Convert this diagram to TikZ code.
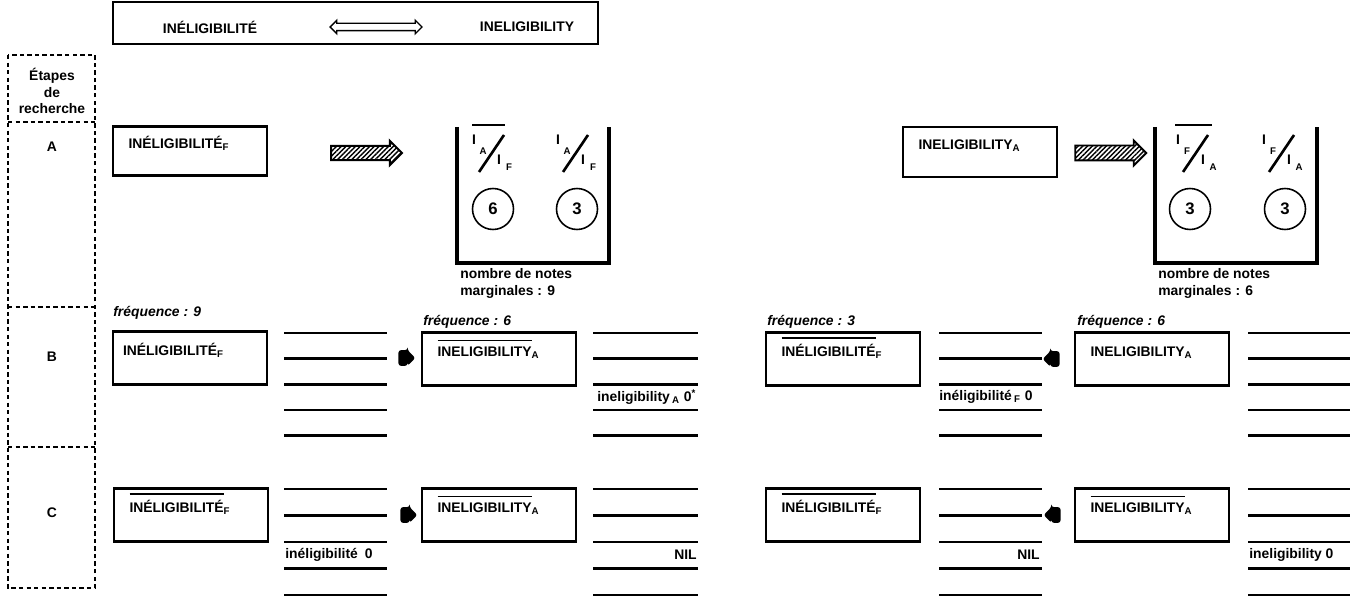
\documentclass[tikz,border=0pt]{standalone}
\usepackage{fontspec}
\setmainfont{Liberation Sans}
\usetikzlibrary{shapes.arrows,patterns.meta,positioning}

% word with a bar over it
\newcommand{\ovl}[1]{\leavevmode\vbox{\hrule height .9pt\kern 3.2pt\hbox{#1}}}
% slanted ratio I_x / I_y : name, position, upper index, lower index
\newcommand{\ratio}[4]{%
  \begin{scope}[shift={#2}]
    \node[glyph] (#1-n) at (0,0) {I};
    \node[index] (#1-ni) at (9,11) {#3};
    \draw[slash] (5,32) -- (30,-5);
    \node[glyph] (#1-d) at (25,20) {I};
    \node[index] (#1-di) at (35,27) {#4};
  \end{scope}}

\begin{document}
\begin{tikzpicture}[x=0.02cm, y=-0.02cm, font=\fontsize{7.9}{9.6}\selectfont\bfseries,
  box/.style={draw, line width=1.6pt, minimum height=1.06cm, text width=2.46cm,
    inner xsep=0.31cm, align=left, text height=0.26cm, text depth=0.36cm},
  stage/.style={line width=0.9pt, dash pattern=on 2.5pt off 1.8pt},
  bin/.style={line width=1.8pt},
  bar/.style={line width=1.1pt},
  entry/.style={line width=1.5pt},
  slash/.style={line width=1.5pt},
  glyph/.style={inner sep=0pt},
  index/.style={inner sep=0pt, font=\fontsize{5.5}{6}\selectfont\bfseries},
  count/.style={circle, draw, line width=0.9pt, minimum size=0.82cm, inner sep=0pt,
    font=\fontsize{9.5}{10}\selectfont\bfseries},
  note/.style={anchor=north west, align=left, inner sep=0pt, font=\fontsize{7.9}{10}\selectfont\bfseries},
  freq/.style={anchor=west, inner sep=0pt, font=\fontsize{7.9}{9.6}\selectfont\bfseries\itshape},
  hatcharrow/.style={single arrow, draw, line width=1.1pt, minimum height=1.42cm,
    inner xsep=0pt, inner ysep=0.13cm, single arrow head extend=0.1cm,
    pattern={Lines[angle=45,distance=1.9pt,line width=.8pt]}},
  pointer/.style={single arrow, fill=black, minimum height=0.34cm,
    inner xsep=0pt, inner ysep=0.15cm, single arrow head extend=0pt, rounded corners=1.5pt}]
  \useasboundingbox (0,0) rectangle (1358,601);

  % title
  \node[draw, line width=1.2pt, minimum width=9.7cm, minimum height=0.84cm] (title) at (355.5,23) {};
  \node (frword) at (210,27) {INÉLIGIBILITÉ};
  \node[double arrow, draw, line width=0.8pt, minimum height=1.84cm, inner xsep=0pt, inner ysep=0.06cm,
    double arrow head extend=0.06cm] (swap) at (376,27) {};
  \node (enword) at (527,27) {INELIGIBILITY};

  % steps column
  \draw[stage] (8,55) rectangle (95,588);
  \foreach \y in {122,307,447}
    \draw[stage] (8,\y) -- (95,\y);
  \node[align=center] (steps) at (52,91) {Étapes\\de\\recherche};
  \node (stA) at (52,147) {A};
  \node (stB) at (52,357) {B};
  \node (stC) at (52,513) {C};

  % step A
  \node[box, minimum height=0.98cm] (frA) at (190,151) {INÉLIGIBILITÉ\textsubscript{F}};
  \node[hatcharrow] (goA1) at (363,153) {};
  \draw[bin] (457,127) -- (457,263) -- (609,263) -- (609,127);
  \draw[bar] (472,125) -- (505,125);
  \ratio{lr1}{(474,140)}{A}{F}
  \ratio{lr2}{(558,140)}{A}{F}
  \node[count] (lc1) at (493,209) {6};
  \node[count] (lc2) at (577,209) {3};
  \node[note] (lnote) at (460,268) {nombre de notes\\marginales : 9};

  \node[box, minimum height=1cm] (enA) at (980,152) {INELIGIBILITY\textsubscript{A}};
  \node[hatcharrow] (goA2) at (1107,153) {};
  \draw[bin] (1155,127) -- (1155,263) -- (1317,263) -- (1317,127);
  \draw[bar] (1175,125) -- (1212,125);
  \ratio{rr1}{(1178,140)}{F}{A}
  \ratio{rr2}{(1264,140)}{F}{A}
  \node[count] (rc1) at (1190,209) {3};
  \node[count] (rc2) at (1285,209) {3};
  \node[note] (rnote) at (1158,268) {nombre de notes\\marginales : 6};

  % lists of notes
  \foreach \xa/\xb in {284/387,593/698,939/1042,1248/1350}{
    \foreach \k in {0,...,4}{
      \draw[entry] (\xa,{333+25.7*\k}) -- (\xb,{333+25.7*\k});
      \draw[entry] (\xa,{489+26.5*\k}) -- (\xb,{489+26.5*\k});
    }}

  % step B
  \node[freq] (fqB1) at (113,313) {fréquence : 9};
  \node[box, inner xsep=0.2cm, text width=2.68cm] (frB) at (190,358) {INÉLIGIBILITÉ\textsubscript{F}};
  \node[pointer] (ptB1) at (403,358) {};
  \node[freq] (fqB2) at (423,322) {fréquence : 6};
  \node[box] (enB) at (499,359) {\ovl{INELIGIBILITY}\textsubscript{A}};
  \node[anchor=west, inner sep=0pt] (hitB1) at (597,397) {ineligibility\,\textsubscript{A} 0\textsuperscript{*}};

  \node[freq] (fqB3) at (767,322) {fréquence : 3};
  \node[box] (frB2) at (843,359) {\ovl{INÉLIGIBILITÉ}\textsubscript{F}};
  \node[anchor=west, inner sep=0pt] (hitB2) at (939,397) {inéligibilité\,\textsubscript{F} 0};
  \node[pointer, shape border rotate=180] (ptB2) at (1055,359) {};
  \node[freq] (fqB4) at (1077,322) {fréquence : 6};
  \node[box] (enB2) at (1152,359) {INELIGIBILITY\textsubscript{A}};

  % step C
  \node[box] (frC) at (191,515) {\ovl{INÉLIGIBILITÉ}\textsubscript{F}};
  \node[anchor=west, inner sep=0pt] (hitC1) at (285,555) {inéligibilité\enspace 0};
  \node[pointer] (ptC1) at (405,515) {};
  \node[box] (enC) at (499,515) {\ovl{INELIGIBILITY}\textsubscript{A}};
  \node[anchor=east, inner sep=0pt] (nilC1) at (697,555) {NIL};

  \node[box] (frC2) at (843,515) {\ovl{INÉLIGIBILITÉ}\textsubscript{F}};
  \node[anchor=east, inner sep=0pt] (nilC2) at (1040,555) {NIL};
  \node[pointer, shape border rotate=180] (ptC2) at (1056,515) {};
  \node[box] (enC2) at (1152,515) {\ovl{INELIGIBILITY}\textsubscript{A}};
  \node[anchor=west, inner sep=0pt] (hitC2) at (1249,555) {ineligibility 0};
\end{tikzpicture}
\end{document}
